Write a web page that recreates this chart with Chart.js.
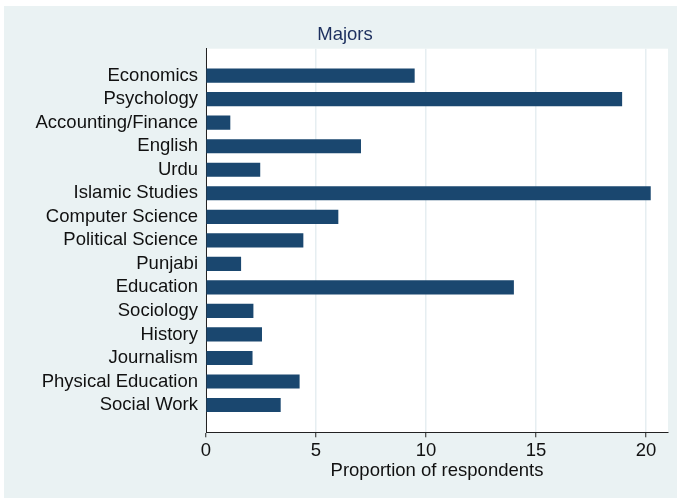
<!DOCTYPE html>
<html>
<head>
<meta charset="utf-8">
<script src="https://cdn.jsdelivr.net/npm/chart.js@4/dist/chart.umd.min.js"></script>
<style>
  html, body { margin: 0; padding: 0; background: #fff; }
  #wrap { width: 677px; height: 499px; }
</style>
</head>
<body>
<div id="wrap"><canvas id="chart" width="677" height="499"></canvas></div>
<script>
// data
const majors = [
    "Economics", "Psychology", "Accounting/Finance", "English", "Urdu",
    "Islamic Studies", "Computer Science", "Political Science", "Punjabi",
    "Education", "Sociology", "History", "Journalism", "Physical Education",
    "Social Work"
]
const proportions = [9.47, 18.9, 1.09, 7.03, 2.45, 20.2, 6.0, 4.41, 1.58, 13.98, 2.14, 2.53, 2.1, 4.24, 3.38]
const xTicks = [0, 5, 10, 15, 20]

const FONT = "'Liberation Sans', Arial, Helvetica, sans-serif"
const BG = '#eaf2f3'
const NAVY = '#1a476f'

// stata-like backgrounds: outer region + white plot region
const backdrop = {
    id: 'backdrop',
    beforeDraw(chart) {
        const { ctx, chartArea } = chart
        ctx.save()
        ctx.fillStyle = '#fff'
        ctx.fillRect(0, 0, chart.width, chart.height)
        ctx.fillStyle = BG
        ctx.fillRect(4, 6, chart.width - 4, chart.height - 7)
        ctx.fillStyle = '#fff'
        ctx.fillRect(chartArea.left, chartArea.top, chartArea.right - chartArea.left, chartArea.bottom - chartArea.top)
        ctx.restore()
    }
}

const ctx = document.getElementById('chart').getContext('2d')

new Chart(ctx, {
    type: 'bar',
    data: {
        datasets: [{
            data: proportions.map((v, i) => ({ x: v, y: i })),
            backgroundColor: NAVY,
            borderWidth: 0,
            barThickness: 13.5
        }]
    },
    options: {
        indexAxis: 'y',
        responsive: false,
        animation: false,
        layout: { padding: { left: 22, right: 9, top: 0, bottom: 0 } },
        plugins: {
            legend: { display: false },
            tooltip: { enabled: false },
            title: {
                display: true,
                text: 'Majors',
                color: '#1c2f5e',
                font: { family: FONT, size: 18.5, weight: 'normal' },
                padding: { top: 24, bottom: 2.5 }
            }
        },
        scales: {
            x: {
                type: 'linear',
                min: 0,
                max: 21,
                afterBuildTicks: s => { s.ticks = xTicks.map(v => ({ value: v })) },
                afterFit: s => { s.height = 66.7 },
                grid: {
                    color: '#e6eef1',
                    lineWidth: 1.5,
                    tickColor: '#222',
                    tickLength: 5,
                    tickWidth: 1
                },
                border: { display: true, color: '#222', width: 1 },
                ticks: {
                    color: '#111',
                    font: { family: FONT, size: 18.5 },
                    padding: 3,
                    maxRotation: 0
                },
                title: {
                    display: true,
                    text: 'Proportion of respondents',
                    color: '#111',
                    font: { family: FONT, size: 18.5 },
                    padding: { top: 0, bottom: 17 }
                }
            },
            y: {
                type: 'linear',
                reverse: true,
                offset: false,
                min: -1.145,
                max: 15.16,
                afterBuildTicks: s => { s.ticks = majors.map((_, i) => ({ value: i })) },
                afterFit: s => { s.width = 184 },
                grid: { display: false, drawTicks: false, offset: false },
                border: { display: true, color: '#222', width: 1 },
                ticks: {
                    color: '#111',
                    font: { family: FONT, size: 18.5 },
                    padding: 8,
                    autoSkip: false,
                    callback: v => majors[v]
                }
            }
        }
    },
    plugins: [backdrop]
})
</script>
</body>
</html>
